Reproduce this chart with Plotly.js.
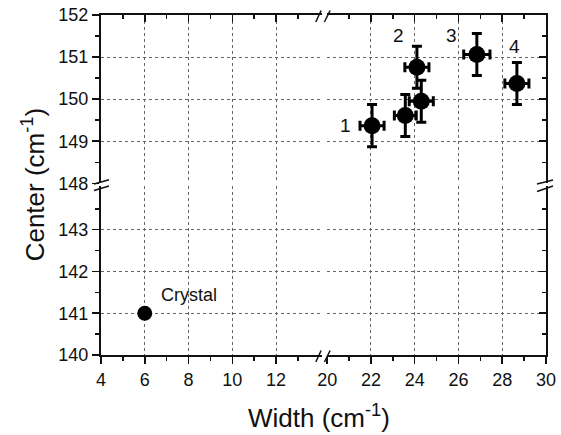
<!DOCTYPE html>
<html>
<head>
<meta charset="utf-8">
<script src="https://cdn.plot.ly/plotly-3.0.1.min.js"></script>
<style>html,body{margin:0;padding:0;background:#fff;}#chart{width:561px;height:435px;}</style>
</head>
<body>
<div id="chart"></div>
<script>
// ---- data ----
const widths = [22.05, 23.57, 24.10, 24.30, 26.84, 28.67];
const centers = [149.37, 149.61, 150.76, 149.95, 151.06, 150.37];
const widthErr = [0.55, 0.50, 0.55, 0.55, 0.60, 0.55];
const centerErr = [0.50, 0.50, 0.50, 0.50, 0.50, 0.50];
const crystalWidth = [6];
const crystalCenter = [141];
const crystalLabel = 'Crystal';
const sampleLabels = ['1', '2', '3', '4'];
const sampleLabelIndex = [0, 2, 4, 5];

const xTicksLeft = [4, 6, 8, 10, 12];
const xMinorLeft = [5, 7, 9, 11, 13];
const xTicksRight = [20, 22, 24, 26, 28, 30];
const xMinorRight = [21, 23, 25, 27, 29];
const yTicksBottom = [140, 141, 142, 143];
const yMinorBottom = [140.5, 141.5, 142.5, 143.5];
const yTicksTop = [148, 149, 150, 151, 152];
const yMinorTop = [148.5, 149.5, 150.5, 151.5];

const xRangeLeft = [4, 14.1];
const xRangeRight = [20, 30];
const yRangeBottom = [140, 144.05];
const yRangeTop = [148, 152];

const xTitle = 'Width (cm<sup>-1</sup>)';
const yTitle = 'Center (cm<sup>-1</sup>)';

// ---- styling ----
const FONT = 'Liberation Sans, Arial, sans-serif';
const INK = '#111';
const GRID = '#666';
const labelOffsets = [[-27, 0], [-18, 32], [-25, 19], [-2, 37]];
const crystalOffset = [44, 18];

function axisBase(range, tickvals, minorvals, ticks, showLabels) {
  return {
    range: range, autorange: false, tickmode: 'array', tickvals: tickvals,
    ticktext: tickvals.map(String),
    ticks: ticks, ticklen: 7, tickwidth: 1.5, tickcolor: INK,
    minor: {tickmode: 'array', tickvals: minorvals, ticks: ticks, ticklen: 4, tickwidth: 1.5, tickcolor: INK, showgrid: false},
    showticklabels: showLabels, tickfont: {family: FONT, size: 18, color: INK},
    showline: true, linewidth: 2, linecolor: INK, zeroline: false, showgrid: false,
    fixedrange: true
  };
}

const xL = Object.assign(axisBase(xRangeLeft, xTicksLeft, xMinorLeft, 'outside', true),
  {domain: [0, 0.4965], anchor: 'y', showgrid: true, gridcolor: GRID, griddash: 'dot', gridwidth: 1});
const xR = Object.assign(axisBase(xRangeRight, xTicksRight, xMinorRight, 'outside', true),
  {domain: [0.5083, 1], anchor: 'y', showgrid: true, gridcolor: GRID, griddash: 'dot', gridwidth: 1});
const yB = Object.assign(axisBase(yRangeBottom, yTicksBottom, yMinorBottom, 'outside', true),
  {domain: [0, 0.4974], anchor: 'x', showgrid: true, gridcolor: GRID, griddash: 'dot', gridwidth: 1});
const yT = Object.assign(axisBase(yRangeTop, yTicksTop, yMinorTop, 'outside', true),
  {domain: [0.505, 1], anchor: 'x', showgrid: true, gridcolor: GRID, griddash: 'dot', gridwidth: 1});

const xLtop = Object.assign(axisBase(xRangeLeft, xTicksLeft, xMinorLeft, 'inside', false),
  {overlaying: 'x', anchor: 'y2', side: 'top'});
const xRtop = Object.assign(axisBase(xRangeRight, xTicksRight, xMinorRight, 'inside', false),
  {overlaying: 'x2', anchor: 'y2', side: 'top'});
const yBright = Object.assign(axisBase(yRangeBottom, yTicksBottom, yMinorBottom, 'inside', false),
  {overlaying: 'y', anchor: 'x2', side: 'right'});
const yTright = Object.assign(axisBase(yRangeTop, yTicksTop, yMinorTop, 'inside', false),
  {overlaying: 'y2', anchor: 'x2', side: 'right'});

const empty = (xa, ya) => ({type: 'scatter', mode: 'markers', x: [], y: [], xaxis: xa, yaxis: ya, hoverinfo: 'skip', showlegend: false});

const traces = [
  empty('x', 'y2'),
  empty('x2', 'y'),
  empty('x3', 'y2'),
  empty('x4', 'y2'),
  empty('x2', 'y3'),
  empty('x2', 'y4'),
  {
    type: 'scatter', mode: 'markers', x: crystalWidth, y: crystalCenter, xaxis: 'x', yaxis: 'y',
    marker: {size: 15, color: '#000'}, showlegend: false, cliponaxis: false
  },
  {
    type: 'scatter', mode: 'markers', x: widths, y: centers, xaxis: 'x2', yaxis: 'y2',
    marker: {size: 17, color: '#000'}, showlegend: false,
    error_x: {type: 'data', array: widthErr, visible: true, thickness: 3, width: 5, color: '#000'},
    error_y: {type: 'data', array: centerErr, visible: true, thickness: 3, width: 5, color: '#000'}
  }
];

const annotations = sampleLabels.map((t, k) => ({
  xref: 'x2', yref: 'y2', x: widths[sampleLabelIndex[k]], y: centers[sampleLabelIndex[k]],
  text: t, showarrow: false, xshift: labelOffsets[k][0], yshift: labelOffsets[k][1],
  font: {family: FONT, size: 19, color: INK}
}));
annotations.push({
  xref: 'x', yref: 'y', x: crystalWidth[0], y: crystalCenter[0], text: crystalLabel, showarrow: false,
  xshift: crystalOffset[0], yshift: crystalOffset[1], font: {family: FONT, size: 18, color: INK}
});
annotations.push({
  xref: 'paper', yref: 'paper', x: 0.49, y: -0.18, text: xTitle, showarrow: false,
  xanchor: 'center', yanchor: 'middle', font: {family: FONT, size: 26, color: INK}
});
annotations.push({
  xref: 'paper', yref: 'paper', x: -0.152, y: 0.5, text: yTitle, showarrow: false, textangle: -90,
  xanchor: 'center', yanchor: 'middle', font: {family: FONT, size: 26, color: INK}
});

function slashPair(xa, ya, segs) {
  return segs.map(s => ({
    type: 'line', xref: 'paper', yref: 'paper', xsizemode: 'pixel', ysizemode: 'pixel',
    xanchor: xa, yanchor: ya, x0: s[0], y0: s[1], x1: s[2], y1: s[3],
    line: {color: INK, width: 1.5}, layer: 'above'
  }));
}
const xBreakSegs = [[-6.8, -7, -1.5, 4.5], [1.8, -7, 7.5, 4.5]];
const yBreakSegs = [[-7, 1, 8, 5.3], [-7, -5.5, 8, -1]];
const shapes = [].concat(
  slashPair(0.498, 0, xBreakSegs),
  slashPair(0.498, 1, xBreakSegs),
  slashPair(0, 0.5, yBreakSegs),
  slashPair(1, 0.5, [[-9, 1, 7, 5], [-9, -6.5, 7, -1]])
);

const layout = {
  width: 561, height: 435,
  margin: {l: 101, r: 15, t: 15, b: 80, pad: 0},
  paper_bgcolor: '#fff', plot_bgcolor: '#fff',
  showlegend: false,
  font: {family: FONT, color: INK},
  xaxis: xL, xaxis2: xR, xaxis3: xLtop, xaxis4: xRtop,
  yaxis: yB, yaxis2: yT, yaxis3: yBright, yaxis4: yTright,
  annotations: annotations,
  shapes: shapes
};

Plotly.newPlot('chart', traces, layout, {staticPlot: true, displayModeBar: false});
</script>
</body>
</html>
